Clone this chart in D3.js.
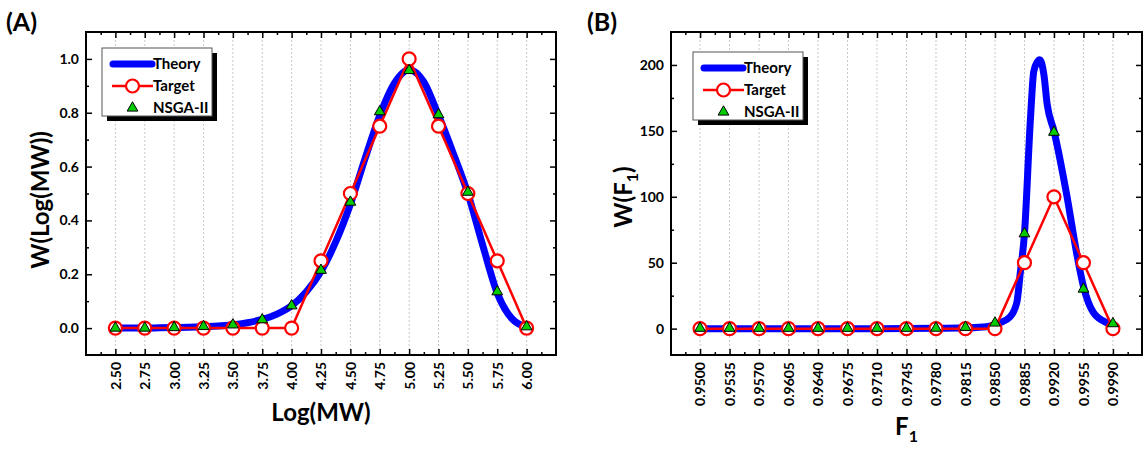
<!DOCTYPE html>
<html>
<head>
<meta charset="utf-8">
<script src="https://cdn.jsdelivr.net/npm/d3@7"></script>
<style>
body { margin: 0; background: #fff; }
text { font-family: Lato, "Open Sans", sans-serif; font-weight: bold; fill: #000; }
</style>
</head>
<body>
<svg width="1143" height="454"></svg>
<script>
// ---- panel A data ----
var logMW = [2.50, 2.75, 3.00, 3.25, 3.50, 3.75, 4.00, 4.25, 4.50, 4.75, 5.00, 5.25, 5.50, 5.75, 6.00];
var targetA = [0, 0, 0, 0, 0, 0, 0, 0.25, 0.50, 0.75, 1.00, 0.75, 0.50, 0.25, 0];
var nsgaA = [0, 0, 0.002, 0.006, 0.012, 0.031, 0.083, 0.215, 0.468, 0.804, 0.957, 0.793, 0.505, 0.135, 0.005];
var theoryAx = [2.50, 2.625, 2.75, 2.875, 3.00, 3.125, 3.25, 3.375, 3.50, 3.625, 3.75, 3.875, 4.00, 4.125,
                4.25, 4.375, 4.50, 4.625, 4.75, 4.875, 5.00, 5.125, 5.25, 5.375, 5.50, 5.625, 5.75, 5.875, 6.00];
var theoryAy = [0, 0, 0, 0.001, 0.002, 0.003, 0.005, 0.008, 0.012, 0.02, 0.032, 0.052, 0.083, 0.135,
                0.21, 0.32, 0.46, 0.63, 0.79, 0.91, 0.96, 0.915, 0.79, 0.65, 0.50, 0.31, 0.13, 0.035, 0.004];
var yTicksA = [0.0, 0.2, 0.4, 0.6, 0.8, 1.0];

// ---- panel B data ----
var f1 = [0.9500, 0.9535, 0.9570, 0.9605, 0.9640, 0.9675, 0.9710, 0.9745, 0.9780, 0.9815, 0.9850, 0.9885, 0.9920, 0.9955, 0.9990];
var targetB = [0, 0, 0, 0, 0, 0, 0, 0, 0, 0, 0, 50, 100, 50, 0];
var nsgaB = [0.3, 0.3, 0.3, 0.3, 0.3, 0.3, 0.3, 0.3, 0.4, 1, 4.3, 72, 149, 30, 3.8];
var theoryBx = [0.9500, 0.9570, 0.9640, 0.9710, 0.9780, 0.9815, 0.9840, 0.9856, 0.9868, 0.9876, 0.9880, 0.9885,
                0.9892, 0.9896, 0.9900, 0.9903, 0.9908, 0.9912, 0.9920, 0.9935, 0.9947, 0.9955, 0.9967, 0.9983, 0.9990];
var theoryBy = [0, 0, 0, 0, 0.2, 0.6, 1.5, 4.5, 9, 20, 42, 72,
                158, 195, 202, 204, 193, 170, 150, 102, 57, 32, 12, 4.5, 3];
var yTicksB = [0, 50, 100, 150, 200];

var svg = d3.select("svg");
svg.append("rect").attr("width", 1143).attr("height", 454).attr("fill", "#fff");

function mids(t) {
    var m = [];
    for (var i = 0; i < t.length - 1; i++) m.push((t[i] + t[i + 1]) / 2);
    m.unshift(t[0] - (t[1] - t[0]) / 2);
    m.push(t[t.length - 1] + (t[1] - t[0]) / 2);
    return m;
}

function drawPanel(p) {
    var x = d3.scaleLinear().domain(p.xDomain).range([p.left, p.right]),
        y = d3.scaleLinear().domain(p.yDomain).range([p.bottom, p.top]);
    var g = svg.append("g");

    // dotted vertical grid
    g.selectAll(".grid").data(p.xs).enter().append("line")
        .attr("x1", function(d) { return x(d); }).attr("x2", function(d) { return x(d); })
        .attr("y1", p.top).attr("y2", p.bottom)
        .attr("stroke", "#c8c8c8").attr("stroke-width", 1).attr("stroke-dasharray", "2,2");

    var xMinor = mids(p.xs).filter(function(d) { return d > p.xDomain[0] && d < p.xDomain[1]; });
    var yMinor = mids(p.yTicks).filter(function(d) { return d > p.yDomain[0] && d < p.yDomain[1]; });

    // theory curve
    var theory = p.theoryX.map(function(d, i) { return [d, p.theoryY[i]]; });
    g.append("path").datum(theory)
        .attr("fill", "none").attr("stroke", "#0000ff").attr("stroke-width", 7)
        .attr("stroke-linejoin", "round").attr("stroke-linecap", "round")
        .attr("d", d3.line().curve(d3.curveMonotoneX)
            .x(function(d) { return x(d[0]); }).y(function(d) { return y(d[1]); }));

    // target line + circles
    var target = p.xs.map(function(d, i) { return [d, p.target[i]]; });
    g.append("path").datum(target)
        .attr("fill", "none").attr("stroke", "#ff0000").attr("stroke-width", 2.5)
        .attr("d", d3.line().x(function(d) { return x(d[0]); }).y(function(d) { return y(d[1]); }));
    g.selectAll(".tgt").data(target).enter().append("circle")
        .attr("cx", function(d) { return x(d[0]); }).attr("cy", function(d) { return y(d[1]); })
        .attr("r", 6.5).attr("fill", "#fff").attr("stroke", "#ff0000").attr("stroke-width", 2.2);

    // NSGA-II triangles
    var tri = d3.symbol().type(d3.symbolTriangle).size(50);
    g.selectAll(".nsga").data(p.xs.map(function(d, i) { return [d, p.nsga[i]]; })).enter().append("path")
        .attr("d", tri)
        .attr("transform", function(d) { return "translate(" + x(d[0]) + "," + y(d[1]) + ")"; })
        .attr("fill", "#00cc00").attr("stroke", "#000").attr("stroke-width", 1);

    // axes, ticks pointing inwards
    var bottom = g.append("g").attr("transform", "translate(0," + p.bottom + ")")
        .call(d3.axisBottom(x).tickValues(p.xs).tickSize(-6).tickPadding(0).tickFormat(d3.format(p.xFmt)));
    bottom.selectAll("text")
        .attr("transform", "rotate(-90)").attr("x", -7).attr("y", 0).attr("dy", "0.35em")
        .attr("text-anchor", "end").style("font-size", "14px");
    g.append("g").attr("transform", "translate(0," + p.bottom + ")")
        .call(d3.axisBottom(x).tickValues(xMinor).tickSize(-3).tickFormat(""));
    g.append("g").attr("transform", "translate(0," + p.top + ")")
        .call(d3.axisTop(x).tickValues(p.xs).tickSize(-6).tickFormat(""));
    g.append("g").attr("transform", "translate(0," + p.top + ")")
        .call(d3.axisTop(x).tickValues(xMinor).tickSize(-3).tickFormat(""));
    var left = g.append("g").attr("transform", "translate(" + p.left + ",0)")
        .call(d3.axisLeft(y).tickValues(p.yTicks).tickSize(-6).tickPadding(7).tickFormat(d3.format(p.yFmt)));
    left.selectAll("text").style("font-size", "14px");
    g.append("g").attr("transform", "translate(" + p.left + ",0)")
        .call(d3.axisLeft(y).tickValues(yMinor).tickSize(-3).tickFormat(""));
    g.append("g").attr("transform", "translate(" + p.right + ",0)")
        .call(d3.axisRight(y).tickValues(p.yTicks).tickSize(-6).tickFormat(""));
    g.append("g").attr("transform", "translate(" + p.right + ",0)")
        .call(d3.axisRight(y).tickValues(yMinor).tickSize(-3).tickFormat(""));
    g.selectAll(".domain").remove();
    g.selectAll(".tick line").attr("stroke", "#000").attr("stroke-width", 1.5);

    // frame
    g.append("rect").attr("x", p.left).attr("y", p.top)
        .attr("width", p.right - p.left).attr("height", p.bottom - p.top)
        .attr("fill", "none").attr("stroke", "#000").attr("stroke-width", 2);

    // axis titles
    var xt = g.append("text").attr("x", (p.left + p.right) / 2).attr("y", p.xTitleY)
        .attr("text-anchor", "middle").style("font-size", "24px");
    p.xTitle(xt);
    var yt = g.append("text")
        .attr("transform", "translate(" + p.yTitleX + "," + p.yTitleMid + ") rotate(-90)")
        .attr("text-anchor", "middle").style("font-size", "24px");
    p.yTitle(yt);

    // panel label
    g.append("text").attr("x", p.tagX).attr("y", 31).style("font-size", "25px").text(p.tag);

    // legend
    var L = g.append("g").attr("transform", "translate(" + p.legX + "," + p.legY + ")");
    L.append("rect").attr("x", 5).attr("y", 5).attr("width", 110).attr("height", 68).attr("fill", "#000");
    L.append("rect").attr("x", 0).attr("y", 0).attr("width", 110).attr("height", 68)
        .attr("fill", "#fff").attr("stroke", "#555").attr("stroke-width", 1);
    L.append("line").attr("x1", 11).attr("x2", 50).attr("y1", 16).attr("y2", 16)
        .attr("stroke", "#0000ff").attr("stroke-width", 7).attr("stroke-linecap", "round");
    L.append("line").attr("x1", 10).attr("x2", 51).attr("y1", 38).attr("y2", 38)
        .attr("stroke", "#ff0000").attr("stroke-width", 2.5);
    L.append("circle").attr("cx", 30.5).attr("cy", 38).attr("r", 6.5)
        .attr("fill", "#fff").attr("stroke", "#ff0000").attr("stroke-width", 2.2);
    L.append("path").attr("d", tri).attr("transform", "translate(30.5,60)")
        .attr("fill", "#00cc00").attr("stroke", "#000").attr("stroke-width", 1);
    var names = ["Theory", "Target", "NSGA-II"], rows = [16, 38, 60];
    names.forEach(function(n, i) {
        L.append("text").attr("x", 51).attr("y", rows[i]).attr("dy", "0.35em")
            .style("font-size", "15px").text(n);
    });
}

drawPanel({
    left: 86, right: 556, top: 32, bottom: 355,
    xDomain: [2.25, 6.25], yDomain: [-0.1, 1.1],
    xs: logMW, yTicks: yTicksA, xFmt: ".2f", yFmt: ".1f",
    target: targetA, nsga: nsgaA, theoryX: theoryAx, theoryY: theoryAy,
    xTitleY: 421,
    xTitle: function(t) { t.text("Log(MW)"); },
    yTitleX: 49, yTitleMid: 200,
    yTitle: function(t) { t.text("W(Log(MW))"); },
    tag: "(A)", tagX: 6,
    legX: 102, legY: 48
});

drawPanel({
    left: 671, right: 1142, top: 32, bottom: 355,
    xDomain: [0.94655, 1.00245], yDomain: [-20, 225],
    xs: f1, yTicks: yTicksB, xFmt: ".4f", yFmt: "d",
    target: targetB, nsga: nsgaB, theoryX: theoryBx, theoryY: theoryBy,
    xTitleY: 435,
    xTitle: function(t) {
        t.append("tspan").text("F");
        t.append("tspan").attr("dy", 7).style("font-size", "16px").text("1");
    },
    yTitleX: 632, yTitleMid: 197,
    yTitle: function(t) {
        t.append("tspan").text("W(F");
        t.append("tspan").attr("dy", 6).style("font-size", "16px").text("1");
        t.append("tspan").attr("dy", -6).text(")");
    },
    tag: "(B)", tagX: 587,
    legX: 693, legY: 52
});
</script>
</body>
</html>
